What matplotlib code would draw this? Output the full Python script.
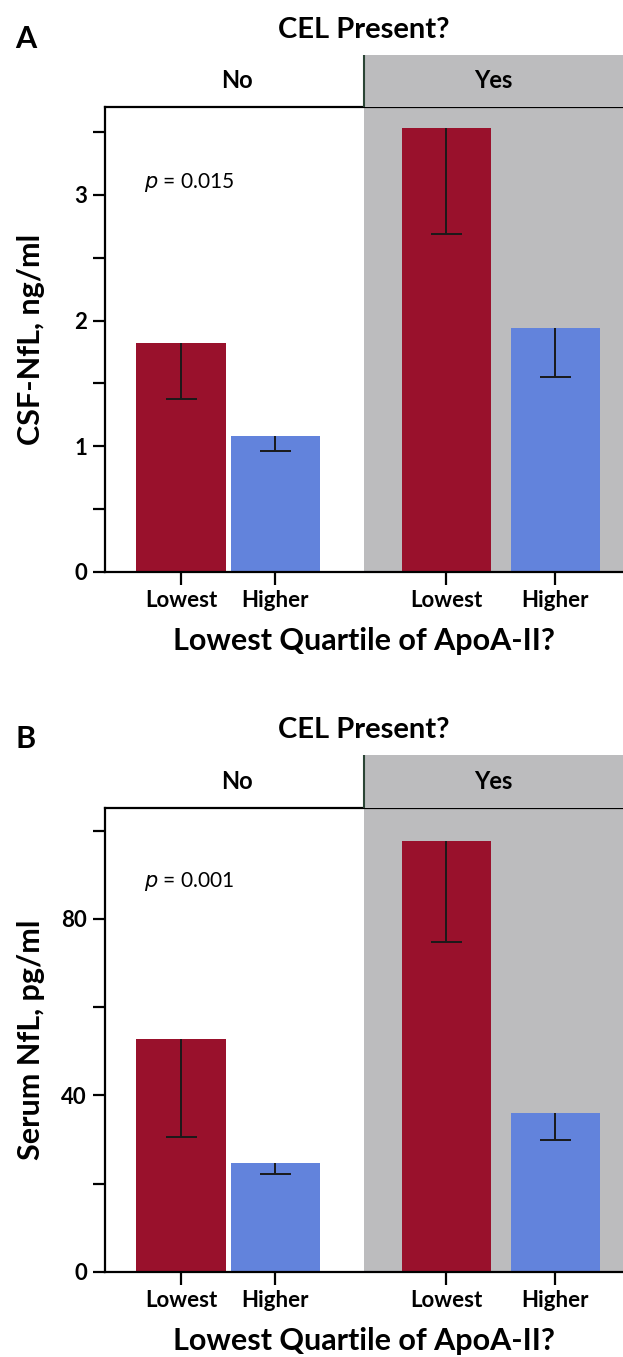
import numpy as np
import matplotlib.pyplot as plt

plt.rcParams['font.family'] = ['Lato', 'DejaVu Sans']

# groups / categories
cel_groups = ["No", "Yes"]
quartile = ["Lowest", "Higher", "Lowest", "Higher"]

# panel A: CSF NfL (ng/ml), bar means and lower end of error bars
csf_mean = [1.82, 1.08, 3.53, 1.94]
csf_low = [1.38, 0.96, 2.69, 1.55]

# panel B: serum NfL (pg/ml)
serum_mean = [52.8, 24.6, 97.6, 36.0]
serum_low = [30.5, 22.3, 74.8, 29.8]

p_csf = "0.015"
p_serum = "0.001"

RED = "#99112c"
BLUE = "#6283dc"
GRAY = "#bcbcbe"
INK = "#1a1a1a"

W, H = 623, 1357
fig = plt.figure(figsize=(W / 100, H / 100), dpi=100)

xpos = np.array([0, 1, 2.82, 3.98])
xlo, xhi = -0.81, 4.70
split = 1.95


def panel(letter, y_top, y_zero, head_top, means, lows, ylim, major, minor, ylabel, ptxt, py):
    means = np.array(means)
    lows = np.array(lows)
    left = 105
    ax = fig.add_axes([left / W, 1 - y_zero / H, 1 - left / W, (y_zero - y_top) / H])
    ax.set_xlim(xlo, xhi)
    ax.set_ylim(*ylim)
    ax.axvspan(split, xhi, color=GRAY, zorder=0, lw=0)
    ax.bar(xpos, means, width=0.95, color=[RED, BLUE, RED, BLUE], zorder=2)
    # lower half error bars only
    ax.vlines(xpos, lows, means, color=INK, lw=1.4, zorder=3)
    ax.hlines(lows, xpos - 0.165, xpos + 0.165, color=INK, lw=1.4, zorder=3)

    for s in ['left', 'top', 'bottom']:
        ax.spines[s].set_linewidth(1.6)
        ax.spines[s].set_color('black')
    ax.spines['right'].set_visible(False)

    ax.set_yticks(major)
    ax.set_yticks(minor, minor=True)
    ax.set_yticklabels([str(v) for v in major], fontsize=16, fontweight='bold')
    ax.tick_params(axis='y', which='both', length=9, width=1.6, direction='out', pad=4)
    ax.set_xticks(xpos)
    ax.set_xticklabels(quartile, fontsize=16, fontweight='bold')
    ax.tick_params(axis='x', length=9, width=1.6, direction='out', pad=4)

    ax.set_ylabel(ylabel, fontsize=22, fontweight='bold')
    ax.yaxis.set_label_coords(-0.115, 0.5)
    ax.set_xlabel("Lowest Quartile of ApoA-II?", fontsize=22, fontweight='bold')
    ax.xaxis.set_label_coords(0.5, -0.118)

    ax.text(-0.40, py, r"$p$ = " + ptxt, fontsize=15, va='center', ha='left',
            math_fontfamily='dejavusans')

    # header strip with the CEL groups
    hx = fig.add_axes([left / W, 1 - y_top / H, 1 - left / W, (y_top - head_top) / H])
    hx.set_xlim(xlo, xhi)
    hx.set_ylim(0, 1)
    hx.axvspan(split, xhi, color=GRAY, lw=0)
    hx.axvline(split, color="#2b4535", lw=1.5)
    hx.text((xlo + split) / 2 + 0.02, 0.5, cel_groups[0], ha='center', va='center',
            fontsize=17, fontweight='bold')
    hx.text((split + xhi) / 2, 0.5, cel_groups[1], ha='center', va='center',
            fontsize=17, fontweight='bold')
    hx.axis('off')

    fig.text(364 / W, 1 - (head_top - 25) / H, "CEL Present?", ha='center', va='center',
             fontsize=21, fontweight='bold')
    fig.text(15 / W, 1 - (head_top - 16) / H, letter, ha='left', va='center',
             fontsize=22, fontweight='bold')
    return ax


panel("A", 107, 572, 55, csf_mean, csf_low, (0, 3.70), [0, 1, 2, 3], [0.5, 1.5, 2.5, 3.5],
      "CSF-NfL, ng/ml", p_csf, 3.1)
panel("B", 808, 1272, 755, serum_mean, serum_low, (0, 105.1), [0, 40, 80], [20, 60, 100],
      "Serum NfL, pg/ml", p_serum, 88.5)

fig.savefig("out.png", dpi=100)
